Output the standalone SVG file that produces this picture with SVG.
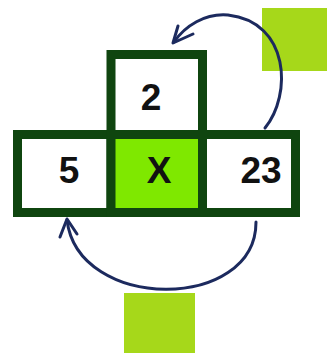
<svg xmlns="http://www.w3.org/2000/svg" width="327" height="353" viewBox="0 0 327 353">
<style>
.cell{fill:#ffffff;stroke:#0f450f;stroke-width:9;}
.hot{fill:#7fe800;}
.deco{fill:#a6d81a;}
.num{font-family:"Liberation Sans",Arial,sans-serif;font-weight:bold;font-size:37px;fill:#111111;text-anchor:middle;}
.arc{fill:none;stroke:#1c2a5e;stroke-width:3;stroke-linecap:round;stroke-linejoin:round;}
</style>
<rect width="327" height="353" fill="#ffffff"/>
<rect class="deco" x="262" y="8" width="65" height="63"/>
<rect class="deco" x="124" y="293" width="71" height="60"/>
<g id="cell-top">
<rect class="cell" x="111" y="54.5" width="91.5" height="81"/>
<text class="num" x="151" y="110">2</text>
</g>
<g id="cell-left">
<rect class="cell" x="17.5" y="134.5" width="93.5" height="78"/>
<text class="num" x="69" y="183">5</text>
</g>
<g id="cell-center">
<rect class="cell hot" x="111" y="134.5" width="91.5" height="78"/>
<text class="num" x="159" y="183">X</text>
</g>
<g id="cell-right">
<rect class="cell" x="202.5" y="134.5" width="93" height="78"/>
<text class="num" x="261" y="183">23</text>
</g>
<g id="connectors">
<path class="arc" d="M265,128 C292,95 290,22 228,15 C205,13 185,26 174,42"/>
<path class="arc" d="M178,26 L173,43 L193,34"/>
<path class="arc" d="M256,222 C256,312 78,312 67,220"/>
<path class="arc" d="M60,237 L67,219 L77,234"/>
</g>
</svg>
